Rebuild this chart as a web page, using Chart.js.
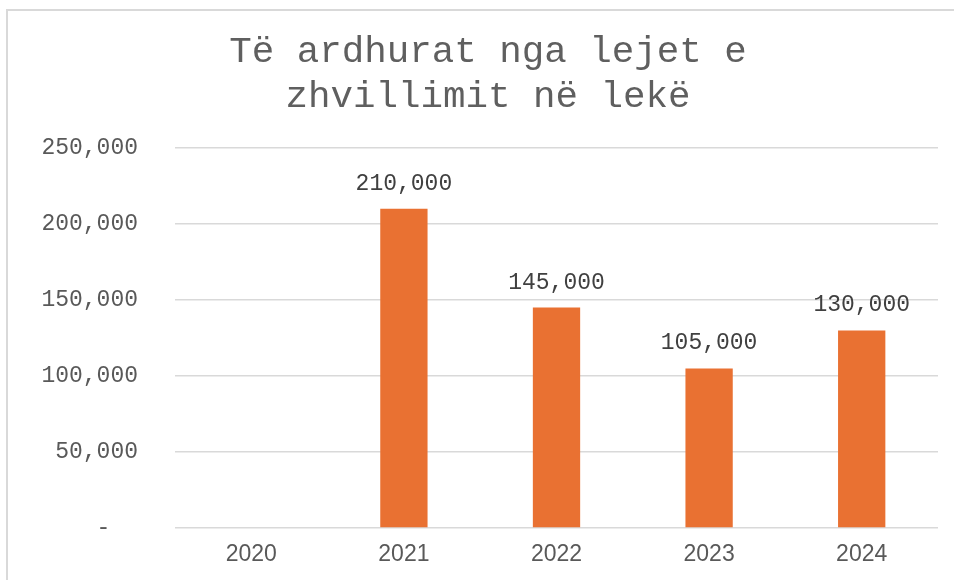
<!DOCTYPE html>
<html>
<head>
<meta charset="utf-8">
<script src="https://cdn.jsdelivr.net/npm/chart.js@4"></script>
<style>
  html, body { margin:0; padding:0; background:#fff; }
  #wrap { position:relative; width:954px; height:580px; overflow:hidden; }
  #frame { position:absolute; left:6px; top:9px; width:960px; height:600px;
           border-left:2px solid #d9d9d9; border-top:2px solid #d9d9d9; pointer-events:none; }
  canvas { position:absolute; left:0; top:0; }
</style>
</head>
<body>
<div id="wrap">
  <canvas id="c" width="954" height="580"></canvas>
  <div id="frame"></div>
</div>
<script>
const titleLines = ['Të ardhurat nga lejet e', 'zhvillimit në lekë'];
const categories = ['2020', '2021', '2022', '2023', '2024'];
const revenues = [null, 210000, 145000, 105000, 130000];
const yTicks = [0, 50000, 100000, 150000, 200000, 250000];

const fmt = v => v === 0 ? '-  ' : v.toLocaleString('en-US');

const dataLabels = {
  id: 'dataLabels',
  afterDatasetsDraw(chart) {
    const ctx = chart.ctx;
    const meta = chart.getDatasetMeta(0);
    ctx.save();
    ctx.font = '23px "Liberation Mono", "Courier New", monospace';
    ctx.fillStyle = '#404040';
    ctx.textAlign = 'center';
    ctx.textBaseline = 'middle';
    meta.data.forEach((bar, i) => {
      const v = chart.data.datasets[0].data[i];
      if (v === null || v === undefined) return;
      ctx.fillText(fmt(v), bar.x, bar.y - 25);
    });
    ctx.restore();
  }
};

new Chart(document.getElementById('c'), {
  type: 'bar',
  data: {
    labels: categories,
    datasets: [{
      data: revenues,
      backgroundColor: '#E97132',
      borderWidth: 0,
      barPercentage: 0.31,
      categoryPercentage: 1.0
    }]
  },
  options: {
    responsive: false,
    animation: false,
    layout: { padding: { top: 0, left: 38, right: 16, bottom: 19 } },
    plugins: {
      legend: { display: false },
      tooltip: { enabled: false },
      title: {
        display: true,
        text: titleLines,
        color: '#5f5f5f',
        font: { family: '"Liberation Mono", "Courier New", monospace', size: 37.5, weight: 'normal', lineHeight: 1.2 },
        padding: { top: 30, bottom: 28 }
      }
    },
    scales: {
      x: {
        grid: { display: false },
        border: { display: false },
        ticks: {
          color: '#595959',
          padding: 5,
          font: { family: '"Liberation Sans Narrow", "Arial Narrow", sans-serif', size: 23 }
        },
        afterFit(scale) { scale.height = 33; }
      },
      y: {
        min: 0,
        max: 250000,
        afterBuildTicks(scale) { scale.ticks = yTicks.map(v => ({ value: v })); },
        grid: { color: '#d9d9d9', lineWidth: 1.5, drawTicks: false },
        border: { display: false },
        ticks: {
          color: '#595959',
          padding: 37,
          font: { family: '"Liberation Mono", "Courier New", monospace', size: 23 },
          callback: v => fmt(v)
        },
        afterFit(scale) { scale.width = 137; }
      }
    }
  },
  plugins: [dataLabels]
});
</script>
</body>
</html>
